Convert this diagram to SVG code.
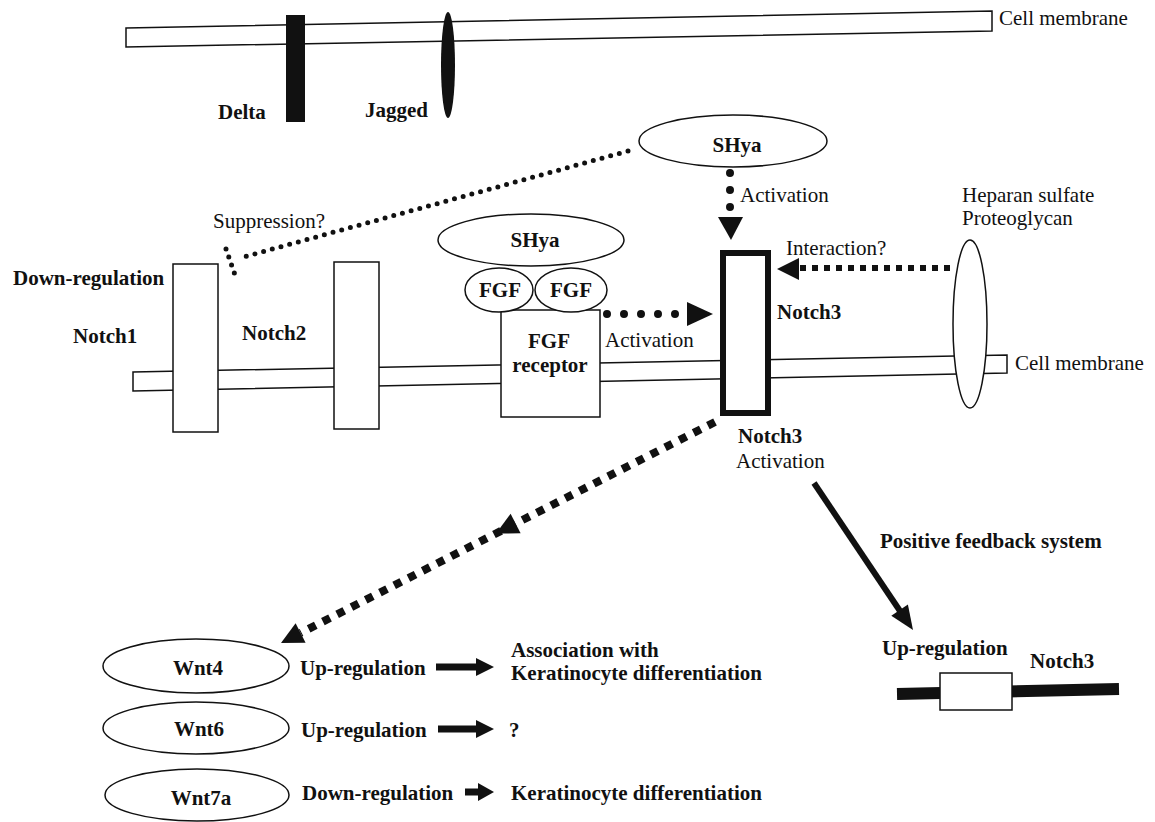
<svg xmlns="http://www.w3.org/2000/svg" width="1155" height="822" viewBox="0 0 1155 822">
<style>
.ln{fill:#fff;stroke:#111;stroke-width:1.5}
.blk{fill:#111;stroke:none}
.t{font-family:"Liberation Serif","Times New Roman",serif;font-size:21px;fill:#111}
.b{font-weight:bold}
.m{text-anchor:middle}
.rdot{fill:none;stroke:#111;stroke-linecap:round}
.sdot{fill:none;stroke:#111;stroke-linecap:butt}
.head{fill:#111;stroke:none}
</style>
<rect width="1155" height="822" fill="#fff"/>

<g id="membrane-top">
<polygon class="ln" points="126,28 992,11 992,31 126,47"/>
<text class="t" x="999" y="25">Cell membrane</text>
</g>
<g id="delta">
<rect class="blk" x="286" y="15" width="19" height="107"/>
<text class="t b" x="218" y="119">Delta</text>
</g>
<g id="jagged">
<ellipse class="blk" cx="448" cy="65" rx="7" ry="53"/>
<text class="t b" x="365" y="117">Jagged</text>
</g>

<g id="shya-top">
<ellipse class="ln" cx="733" cy="141" rx="94" ry="26"/>
<text class="t b m" x="737" y="152">SHya</text>
</g>

<g id="membrane-bottom">
<polygon class="ln" points="133,372 1007,355 1007,373 133,391"/>
<text class="t" x="1015" y="370">Cell membrane</text>
</g>

<g id="notch1">
<rect class="ln" x="173" y="264" width="45" height="168"/>
<text class="t b" x="13" y="285">Down-regulation</text>
<text class="t b" x="73" y="343">Notch1</text>
</g>
<g id="notch2">
<rect class="ln" x="334" y="262" width="45" height="167"/>
<text class="t b" x="242" y="340">Notch2</text>
</g>

<g id="fgf-receptor">
<rect class="ln" x="501" y="310" width="99" height="107"/>
<text class="t b m" x="549" y="348">FGF</text>
<text class="t b m" x="550" y="372">receptor</text>
</g>
<g id="fgf-left">
<ellipse class="ln" cx="499" cy="290" rx="34" ry="22"/>
<text class="t b m" x="500" y="297">FGF</text>
</g>
<g id="fgf-right">
<ellipse class="ln" cx="571" cy="290" rx="36" ry="22"/>
<text class="t b m" x="571" y="297">FGF</text>
</g>
<g id="shya-mid">
<ellipse class="ln" cx="531" cy="240" rx="93" ry="26"/>
<text class="t b m" x="535" y="247">SHya</text>
</g>

<g id="notch3">
<rect x="723" y="253" width="45" height="160" fill="#fff" stroke="#111" stroke-width="6"/>
<text class="t b" x="777" y="319">Notch3</text>
<text class="t b" x="738" y="443">Notch3</text>
<text class="t" x="736" y="468">Activation</text>
</g>

<g id="hspg">
<ellipse class="ln" cx="970" cy="324" rx="17" ry="84"/>
<text class="t" x="962" y="202">Heparan sulfate</text>
<text class="t" x="962" y="225">Proteoglycan</text>
</g>

<g id="notch3-gene">
<line x1="897" y1="694" x2="1119" y2="689" stroke="#111" stroke-width="12"/>
<rect class="ln" x="940" y="673" width="72" height="37"/>
<text class="t b" x="882" y="655">Up-regulation</text>
<text class="t b" x="1030" y="668">Notch3</text>
</g>

<g id="wnt4">
<ellipse class="ln" cx="196" cy="666" rx="93" ry="27"/>
<text class="t b m" x="198" y="675">Wnt4</text>
<text class="t b" x="300" y="675">Up-regulation</text>
</g>
<g id="wnt6">
<ellipse class="ln" cx="196" cy="728" rx="93" ry="26"/>
<text class="t b m" x="199" y="736">Wnt6</text>
<text class="t b" x="301" y="737">Up-regulation</text>
</g>
<g id="wnt7a">
<ellipse class="ln" cx="197" cy="795" rx="92" ry="26"/>
<text class="t b m" x="201" y="805">Wnt7a</text>
<text class="t b" x="302" y="800">Down-regulation</text>
</g>

<g id="outcomes">
<text class="t b" x="511" y="657">Association with</text>
<text class="t b" x="511" y="680">Keratinocyte differentiation</text>
<text class="t b" x="509" y="737">?</text>
<text class="t b" x="511" y="800">Keratinocyte differentiation</text>
</g>

<g id="connectors">
<path class="rdot" d="M628,151 L240,258" stroke-width="5" stroke-dasharray="0 9"/>
<path class="rdot" d="M226,249 L235,275" stroke-width="5" stroke-dasharray="0 8.5"/>
<text class="t" x="213" y="228">Suppression?</text>
<path class="rdot" d="M730,173 L730,215" stroke-width="8" stroke-dasharray="0 17"/>
<polygon class="head" points="718,217 743,217 731,240"/>
<text class="t" x="740" y="202">Activation</text>
<path class="rdot" d="M607,314 L680,314" stroke-width="8" stroke-dasharray="0 17"/>
<polygon class="head" points="687,302 713,314 687,326"/>
<text class="t" x="605" y="347">Activation</text>
<path class="sdot" d="M950,268 L798,268" stroke-width="6" stroke-dasharray="6 6"/>
<polygon class="head" points="777,269 799,258 799,280"/>
<text class="t" x="786" y="255">Interaction?</text>
<path class="sdot" d="M715,422 L515.6,523.5 L300.6,633" stroke-width="8" stroke-dasharray="8 8"/>
<polygon class="head" points="496,533.5 520.6,533.3 510.6,513.7"/>
<polygon class="head" points="281,643 305.6,642.8 295.6,623.2"/>
<line x1="814" y1="483" x2="900" y2="611" stroke="#111" stroke-width="6"/>
<polygon class="head" points="913,630 891.3,615.7 907.9,604.5"/>
<text class="t b" x="880" y="548">Positive feedback system</text>
<polygon class="head" points="436,663.5 476,663.5 476,658 494,667 476,676 476,670.5 436,670.5"/>
<polygon class="head" points="438,725.5 476,725.5 476,720 494,729 476,738 476,732.5 438,732.5"/>
<polygon class="head" points="465,788.5 478,788.5 478,783 494,792 478,801 478,795.5 465,795.5"/>
</g>
</svg>
